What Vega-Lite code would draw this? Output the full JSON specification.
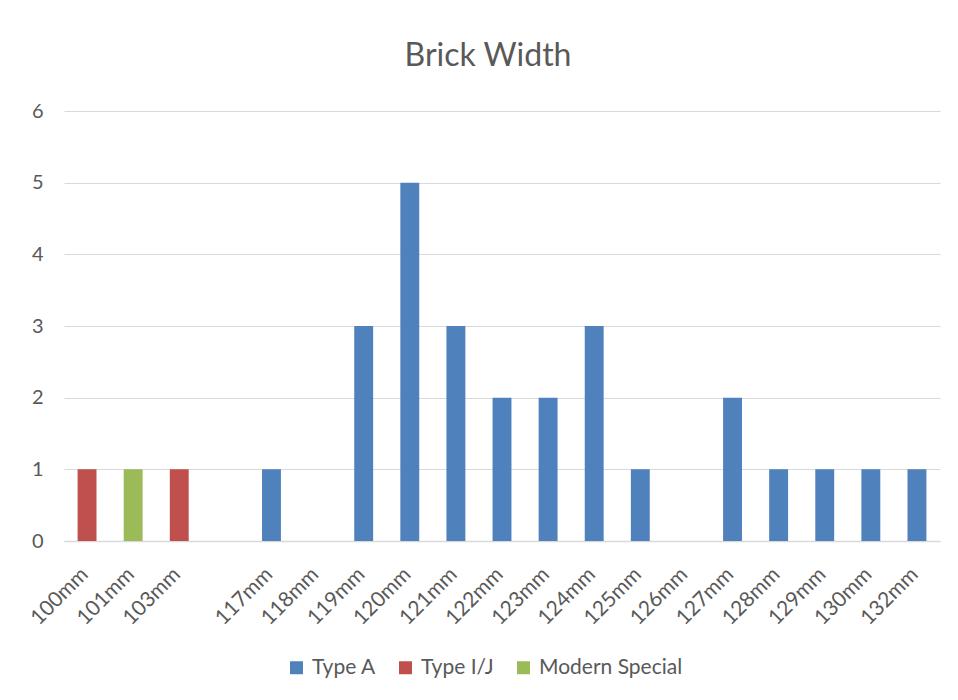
{
  "$schema": "https://vega.github.io/schema/vega-lite/v6.json",
  "width": 876,
  "height": 430,
  "autosize": {"type": "none"},
  "padding": {"left": 64, "top": 111, "right": 18, "bottom": 159},
  "background": "white",
  "title": {"text": "Brick Width", "fontSize": 32, "font": "Lato", "fontWeight": "normal", "color": "#595959", "offset": 28, "dx": -14},
  "data": {"values": [
    {"width": "100mm", "type": "Type I/J", "count": 1},
    {"width": "101mm", "type": "Modern Special", "count": 1},
    {"width": "103mm", "type": "Type I/J", "count": 1},
    {"width": "117mm", "type": "Type A", "count": 1},
    {"width": "119mm", "type": "Type A", "count": 3},
    {"width": "120mm", "type": "Type A", "count": 5},
    {"width": "121mm", "type": "Type A", "count": 3},
    {"width": "122mm", "type": "Type A", "count": 2},
    {"width": "123mm", "type": "Type A", "count": 2},
    {"width": "124mm", "type": "Type A", "count": 3},
    {"width": "125mm", "type": "Type A", "count": 1},
    {"width": "127mm", "type": "Type A", "count": 2},
    {"width": "128mm", "type": "Type A", "count": 1},
    {"width": "129mm", "type": "Type A", "count": 1},
    {"width": "130mm", "type": "Type A", "count": 1},
    {"width": "132mm", "type": "Type A", "count": 1}
  ]},
  "mark": {"type": "bar"},
  "encoding": {
    "x": {
      "field": "width", "type": "ordinal",
      "scale": {"domain": ["100mm","101mm","103mm"," ","117mm","118mm","119mm","120mm","121mm","122mm","123mm","124mm","125mm","126mm","127mm","128mm","129mm","130mm","132mm"], "paddingInner": 0.59, "paddingOuter": 0.295},
      "axis": {"title": null, "labelAngle": -45, "labelAlign": "right", "labelBaseline": "middle", "labelFont": "Lato", "labelFontSize": 21, "labelColor": "#595959", "labelPadding": 30, "labelOffset": -2, "ticks": false, "domainColor": "#d9d9d9", "domainWidth": 1.5, "grid": false}
    },
    "y": {
      "field": "count", "type": "quantitative",
      "scale": {"domain": [0, 6], "nice": false},
      "axis": {"title": null, "values": [0,1,2,3,4,5,6], "labelFont": "Lato", "labelFontSize": 20, "labelColor": "#595959", "labelPadding": 21, "ticks": false, "domain": false, "grid": true, "gridColor": "#d9d9d9", "gridWidth": 1.2}
    },
    "color": {
      "field": "type", "type": "nominal",
      "scale": {"domain": ["Type A","Type I/J","Modern Special"], "range": ["#4F81BD","#C0504D","#9BBB59"]},
      "legend": {"title": null, "orient": "none", "direction": "horizontal", "legendX": 222, "legendY": 546, "symbolType": "square", "symbolSize": 169, "symbolStrokeWidth": 0, "labelFont": "Lato", "labelFontSize": 21, "labelColor": "#595959", "columnPadding": 19, "labelOffset": 5}
    }
  },
  "config": {"view": {"stroke": null}}
}
